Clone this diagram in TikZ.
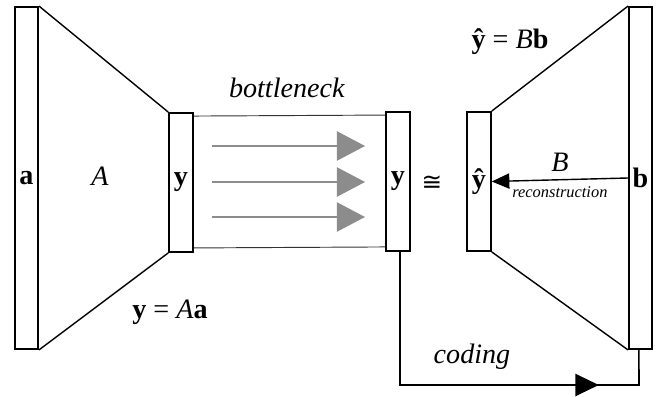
\documentclass[tikz,border=0pt]{standalone}
\usepackage{fontspec}
\setmainfont{Liberation Serif}
\newfontfamily\symfont{DejaVu Sans}
\usepackage{tikz}
\usetikzlibrary{arrows.meta,positioning,decorations.markings}

\begin{document}
\begin{tikzpicture}[
        x=0.03cm, y=-0.03cm,
        every node/.style={font=\fontsize{24}{26}\selectfont},
        longbar/.style={draw,line width=1.6pt,minimum width=0.69cm,minimum height=10.26cm,inner sep=0pt},
        shortbar/.style={draw,line width=1.6pt,minimum width=0.71cm,minimum height=4.17cm,inner sep=0pt},
        funnel/.style={line width=1.2pt},
        pipe/.style={line width=0.8pt,black!80},
        flow/.style={line width=1.3pt,black!45,-{Triangle[length=24pt,width=25pt]}}]
        \useasboundingbox (0,0) rectangle (662,397);
        % bars
        \node[longbar] (a) at (26.5,178) {\textbf{a}};
        \node[shortbar] (y1) at (181,182.5) {\textbf{y}};
        \node[shortbar] (y2) at (398,181.5) {\textbf{y}};
        \node[shortbar] (yh) at (479,181.5) {\textbf{\^{y}}};
        \node[longbar] (b) at (640.5,178) {\textbf{b}};
        % encoder and decoder
        \draw[funnel] (a.north east) -- (y1.north west);
        \draw[funnel] (a.south east) -- (y1.south west);
        \draw[funnel] (yh.north east) -- (b.north west);
        \draw[funnel] (yh.south east) -- (b.south west);
        % bottleneck
        \draw[pipe] ([yshift=-0.12cm]y1.north east) -- ([yshift=-0.12cm]y2.north west);
        \draw[pipe] ([yshift=0.15cm]y1.south east) -- ([yshift=0.15cm]y2.south west);
        \foreach \yy in {146,182,217}
          \draw[flow] (212,\yy) -- (365,\yy);
        \draw[line width=1.2pt,-{Triangle[length=15pt,width=13pt]}] (b.west) -- (yh.east)
          node[midway,above=3pt,font=\fontsize{24}{26}\selectfont\itshape] (Blab) {B}
          node[midway,below=2pt,font=\fontsize{14}{16}\selectfont\itshape] (rec) {reconstruction};
        \draw[line width=1.4pt,postaction={decorate},
          decoration={markings,mark=at position 0.815 with {\arrow{Triangle[length=20pt,width=19pt]}}}]
          ([xshift=0.06cm]y2.south) |- (639,385) -- ([xshift=-0.05cm]b.south);
        % labels
        \node (bn) at (287,88) {\textit{bottleneck}};
        \node (coding) at (472,357) {\textit{coding}};
        \node (Alab) at (100,176) {\textit{A}};
        \node (eqA) at (170,312) {\textbf{y} = \textit{A}\textbf{a}};
        \node (eqB) at (510,42) {\textbf{\^{y}} = \textit{B}\textbf{b}};
        \node[inner sep=0pt,font=\fontsize{21}{23}\selectfont\symfont] (cong) at (432,183) {≅};
      \end{tikzpicture}
\end{document}
